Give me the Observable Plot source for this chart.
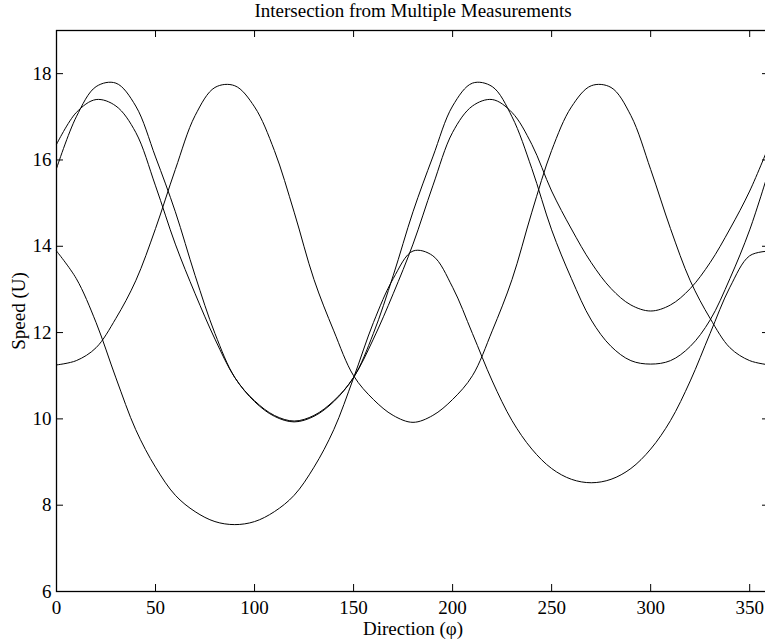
<!DOCTYPE html>
<html>
<head>
<meta charset="utf-8">
<script src="https://cdn.jsdelivr.net/npm/d3@7"></script>
<script src="https://cdn.jsdelivr.net/npm/@observablehq/plot@0.6"></script>
<style>
  html, body { margin: 0; padding: 0; background: #fff; overflow: hidden; }
  svg { display: block; max-width: none !important; }
</style>
</head>
<body>
<div id="chart"></div>
<script>
const title = "Intersection from Multiple Measurements";
const xLabel = "Direction (\u03c6)";
const yLabel = "Speed (U)";
const xTicks = [0, 50, 100, 150, 200, 250, 300, 350];
const yTicks = [6, 8, 10, 12, 14, 16, 18];

const phi = [0,10,20,30,40,50,60,70,80,90,100,110,120,130,140,150,160,170,180,
             190,200,210,220,230,240,250,260,270,280,290,300,310,320,330,340,350,360];

const seriesA = [15.80,17.00,17.70,17.78,17.25,16.07,14.80,13.32,11.98,10.96,10.42,10.08,9.95,10.08,10.42,10.96,11.98,13.32,14.80,
                 16.07,17.25,17.78,17.70,17.00,15.80,14.38,13.25,12.29,11.68,11.35,11.27,11.35,11.68,12.29,13.25,14.38,15.80];
const seriesB = [16.36,17.10,17.40,17.25,16.64,15.40,14.05,12.90,11.85,10.96,10.40,10.06,9.93,10.06,10.40,10.96,11.85,12.90,14.05,
                 15.40,16.64,17.25,17.40,17.10,16.36,15.28,14.40,13.62,13.02,12.64,12.50,12.64,13.02,13.62,14.40,15.28,16.36];
const seriesC = [11.25,11.35,11.65,12.33,13.20,14.41,15.78,17.03,17.68,17.72,17.23,16.22,14.79,13.23,12.04,11.00,10.45,10.08,9.92,
                 10.08,10.45,11.00,12.04,13.23,14.79,16.22,17.23,17.72,17.68,17.03,15.78,14.41,13.20,12.33,11.65,11.35,11.25];
const seriesD = [13.89,13.25,12.23,10.95,9.75,8.88,8.23,7.85,7.62,7.55,7.62,7.85,8.23,8.88,9.75,10.95,12.23,13.25,13.89,
                 13.78,13.05,11.98,10.88,9.96,9.30,8.85,8.60,8.52,8.60,8.85,9.30,9.96,10.88,11.98,13.05,13.78,13.89];

const allSeries = [seriesA, seriesB, seriesC, seriesD];
const rows = allSeries.flatMap((s, i) => s.map((v, j) => ({phi: phi[j], u: v, k: i})));

const W = 770, H = 644;
const mL = 56, mR = 1, mT = 30, mB = 53;
const plotW = W - mL - mR, plotH = H - mT - mB;
const tick = 7;
const font = "Liberation Serif, Times New Roman, serif";
const fs = 19;

const chart = Plot.plot({
  width: W,
  height: H,
  marginLeft: mL,
  marginRight: mR,
  marginTop: mT,
  marginBottom: mB,
  style: {fontFamily: font, fontSize: fs + "px", color: "black", background: "white", maxWidth: "none"},
  x: {domain: [0, 360]},
  y: {domain: [6, 19]},
  marks: [
    Plot.line(rows, {x: "phi", y: "u", z: "k", stroke: "black", strokeWidth: 1, curve: "catmull-rom"}),
    // inward ticks on all four sides
    Plot.tickX(xTicks, {x: d => d, stroke: "black", strokeWidth: 1, insetTop: plotH - tick}),
    Plot.tickX(xTicks, {x: d => d, stroke: "black", strokeWidth: 1, insetBottom: plotH - tick}),
    Plot.tickY(yTicks, {y: d => d, stroke: "black", strokeWidth: 1, insetRight: plotW - tick}),
    Plot.tickY(yTicks, {y: d => d, stroke: "black", strokeWidth: 1, insetLeft: plotW - tick}),
    Plot.axisX({ticks: xTicks, tickSize: 0, tickPadding: 9, fontSize: fs, label: null, tickFormat: d => String(d)}),
    Plot.axisY({ticks: yTicks, tickSize: 0, tickPadding: 5, fontSize: fs, label: null, tickFormat: d => String(d)}),
    Plot.frame({stroke: "black", strokeWidth: 1.3}),
    Plot.text([title], {frameAnchor: "top", text: d => d, dy: -20, fontSize: fs, lineAnchor: "middle", textAnchor: "middle", fill: "black"}),
    Plot.text([xLabel], {frameAnchor: "bottom", text: d => d, dy: 37, fontSize: fs, lineAnchor: "middle", textAnchor: "middle", fill: "black"}),
    Plot.text([yLabel], {frameAnchor: "left", text: d => d, dx: -37.5, rotate: -90, fontSize: fs, lineAnchor: "middle", textAnchor: "middle", fill: "black"})
  ]
});
document.getElementById("chart").appendChild(chart);
</script>
</body>
</html>
